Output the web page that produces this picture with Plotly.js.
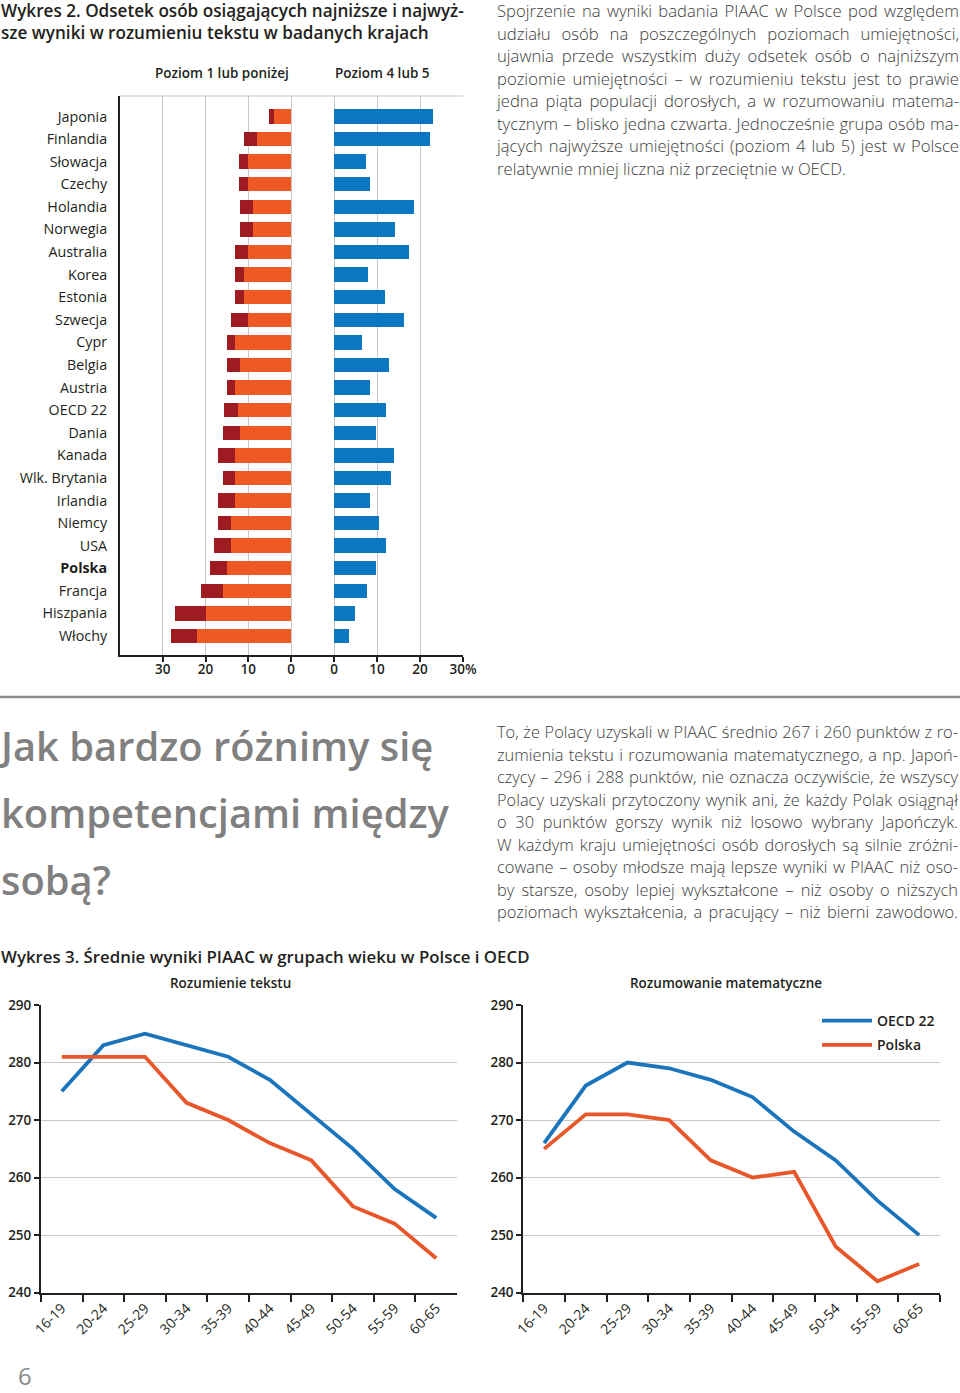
<!DOCTYPE html>
<html>
<head>
<meta charset="utf-8">
<script src="https://cdn.plot.ly/plotly-3.0.1.min.js"></script>
<style>
  html, body { margin:0; padding:0; background:#fff; }
  #page { position:relative; width:960px; height:1393px; overflow:hidden; }
  #chart { position:absolute; left:0; top:0; width:960px; height:1393px; }
  .txt { position:absolute; z-index:5; color:#231f20; font-family:"Open Sans", "Noto Sans", sans-serif; white-space:nowrap; }
  .ttl { font-weight:600; }
  .para { position:absolute; z-index:5; font-family:"Open Sans", "Noto Sans", sans-serif; font-weight:300; color:#3c3c3c; }
  .para div { white-space:nowrap; text-align:justify; text-align-last:justify; }
  .para div.last { text-align-last:left; }
  .head { position:absolute; z-index:5; font-family:"Open Sans", "Noto Sans", sans-serif; font-weight:600; color:#808080; white-space:nowrap; }
</style>
</head>
<body>
<div id="page">
  <div id="chart"></div>

  <div class="txt ttl" id="t2a" style="left:1px; top:0px; line-height:22px;">Wykres 2. Odsetek osób osiągających najniższe i najwyż-</div>
  <div class="txt ttl" id="t2b" style="left:1px; top:22px; line-height:22px;">sze wyniki w rozumieniu tekstu w badanych krajach</div>

  <div class="para" id="p1" style="left:497px; top:0px; width:462px;">
    <div>Spojrzenie na wyniki badania PIAAC w Polsce pod względem</div>
    <div>udziału osób na poszczególnych poziomach umiejętności,</div>
    <div>ujawnia przede wszystkim duży odsetek osób o najniższym</div>
    <div>poziomie umiejętności – w rozumieniu tekstu jest to prawie</div>
    <div>jedna piąta populacji dorosłych, a w rozumowaniu matema-</div>
    <div>tycznym – blisko jedna czwarta. Jednocześnie grupa osób ma-</div>
    <div>jących najwyższe umiejętności (poziom 4 lub 5) jest w Polsce</div>
    <div class="last">relatywnie mniej liczna niż przeciętnie w OECD.</div>
  </div>

  <div class="head" id="h1" style="left:1px; top:718px;">Jak bardzo różnimy się</div>
  <div class="head" id="h2" style="left:1px; top:785px;">kompetencjami między</div>
  <div class="head" id="h3" style="left:1px; top:852px;">sobą?</div>

  <div class="para" id="p2" style="left:497px; top:721px; width:461px;">
    <div>To, że Polacy uzyskali w PIAAC średnio 267 i 260 punktów z ro-</div>
    <div>zumienia tekstu i rozumowania matematycznego, a np. Japoń-</div>
    <div>czycy – 296 i 288 punktów, nie oznacza oczywiście, że wszyscy</div>
    <div>Polacy uzyskali przytoczony wynik ani, że każdy Polak osiągnął</div>
    <div>o 30 punktów gorszy wynik niż losowo wybrany Japończyk.</div>
    <div>W każdym kraju umiejętności osób dorosłych są silnie zróżni-</div>
    <div>cowane – osoby młodsze mają lepsze wyniki w PIAAC niż oso-</div>
    <div>by starsze, osoby lepiej wykształcone – niż osoby o niższych</div>
    <div>poziomach wykształcenia, a pracujący – niż bierni zawodowo.</div>
  </div>

  <div class="txt ttl" id="t3" style="left:1px; top:945px; line-height:24px;">Wykres 3. Średnie wyniki PIAAC w grupach wieku w Polsce i OECD</div>

  <div class="head" id="pg" style="left:18px; top:1363px; font-size:24px; line-height:26px; font-weight:400; color:#8a8a8a;">6</div>
</div>

<script>
// ---------- DATA ----------
const countries = ['Japonia','Finlandia','Słowacja','Czechy','Holandia','Norwegia','Australia','Korea','Estonia','Szwecja','Cypr','Belgia','Austria','OECD 22','Dania','Kanada','Wlk. Brytania','Irlandia','Niemcy','USA','Polska','Francja','Hiszpania','Włochy'];
const level1 =      [4.0, 8.0, 10.0, 10.0, 9.0, 9.0, 10.0, 11.0, 11.0, 10.0, 13.0, 12.0, 13.0, 12.3, 12.0, 13.0, 13.0, 13.0, 14.0, 14.0, 15.0, 16.0, 20.0, 22.1];
const belowLevel1 = [1.1, 3.0, 2.1, 2.1, 3.0, 3.0, 3.0, 2.0, 2.0, 4.0, 2.0, 3.0, 2.0, 3.4, 4.0, 4.0, 3.0, 4.0, 3.0, 4.0, 4.0, 5.0, 7.1, 6.0];
const level45 =     [23.0, 22.4, 7.4, 8.4, 18.7, 14.1, 17.4, 8.0, 11.9, 16.2, 6.4, 12.7, 8.4, 12.1, 9.8, 14.0, 13.3, 8.3, 10.5, 12.2, 9.8, 7.6, 4.8, 3.4];
const leftTicks = [30, 20, 10, 0];
const leftTickText = ['30', '20', '10', '0'];
const rightTicks = [0, 10, 20, 30];
const rightTickText = ['0', '10', '20', '30%'];

const ageGroups = ['16-19','20-24','25-29','30-34','35-39','40-44','45-49','50-54','55-59','60-65'];
const readingOECD =   [275, 283, 285, 283, 281, 277, 271, 265, 258, 253];
const readingPolska = [281, 281, 281, 273, 270, 266, 263, 255, 252, 246];
const mathOECD =      [266, 276, 280, 279, 277, 274, 268, 263, 256, 250];
const mathPolska =    [265, 271, 271, 270, 263, 260, 261, 248, 242, 245];

// ---------- LAYOUT HELPERS ----------
const W = 960, H = 1393;
const px = x => x / W;
const py = y => 1 - y / H;
const FONT = '"Open Sans", "Noto Sans", sans-serif';
const INK = '#231f20';
const GRID = '#c8c8c8';
const ORANGE = '#ef5a24', DARKRED = '#9e1c21', BLUE = '#0b76c1';
const LBLUE = '#1b75bc', LORANGE = '#e8572a';

const countryLabels = countries.map(c => c === 'Polska' ? '<b>' + c + '</b>' : c);

const traces = [
  {type:'bar', orientation:'h', y: countries, x: level1, xaxis:'x', yaxis:'y',
   marker:{color: ORANGE}, showlegend:false, name:'Poziom 1', hoverinfo:'x+y'},
  {type:'bar', orientation:'h', y: countries, x: belowLevel1, xaxis:'x', yaxis:'y',
   marker:{color: DARKRED}, showlegend:false, name:'Poniżej poziomu 1', hoverinfo:'x+y'},
  {type:'bar', orientation:'h', y: countries, x: level45, xaxis:'x2', yaxis:'y',
   marker:{color: BLUE}, showlegend:false, name:'Poziom 4 lub 5', hoverinfo:'x+y'},
  {type:'scatter', mode:'lines', x: ageGroups, y: readingOECD, xaxis:'x3', yaxis:'y3',
   line:{color: LBLUE, width:3.8}, showlegend:false, name:'OECD 22'},
  {type:'scatter', mode:'lines', x: ageGroups, y: readingPolska, xaxis:'x3', yaxis:'y3',
   line:{color: LORANGE, width:3.8}, showlegend:false, name:'Polska'},
  {type:'scatter', mode:'lines', x: ageGroups, y: mathOECD, xaxis:'x4', yaxis:'y4',
   line:{color: LBLUE, width:3.8}, name:'OECD 22', legendgroup:'a'},
  {type:'scatter', mode:'lines', x: ageGroups, y: mathPolska, xaxis:'x4', yaxis:'y4',
   line:{color: LORANGE, width:3.8}, name:'Polska', legendgroup:'b'}
];

const tickFont = {family: FONT, size: 13.5, color: INK, weight: 600};

const barX = {
  showgrid:true, gridcolor:GRID, gridwidth:1,
  zeroline:true, zerolinecolor:GRID, zerolinewidth:1,
  showline:true, linecolor:INK, linewidth:2,
  ticks:'outside', ticklen:5, tickwidth:2, tickcolor:INK,
  ticklabelstandoff:-4,
  tickfont: tickFont, fixedrange:true
};
const lineY = {
  range:[240, 290], dtick:10, tick0:240,
  showgrid:true, gridcolor:GRID, gridwidth:1, zeroline:false,
  showline:true, linecolor:INK, linewidth:2,
  ticks:'outside', ticklen:5, tickwidth:2, tickcolor:INK,
  tickfont: tickFont, fixedrange:true
};
const lineX = {
  type:'category', range:[-0.5, 9.5], tickson:'boundaries',
  showgrid:false, zeroline:false,
  showline:true, linecolor:INK, linewidth:2,
  ticks:'outside', ticklen:7, tickwidth:2, tickcolor:INK,
  tickangle:-45, tickfont:{family: FONT, size: 14, color: INK}, fixedrange:true
};

const layout = {
  width: W, height: H,
  margin: {l:0, r:0, t:0, b:0, pad:0},
  paper_bgcolor:'#ffffff', plot_bgcolor:'rgba(0,0,0,0)',
  font: {family: FONT, color: INK, size: 14},
  barmode:'stack', bargap:0.363,
  showlegend:true,
  legend: {x: px(817), y: py(1005), xanchor:'left', yanchor:'top',
           bgcolor:'rgba(0,0,0,0)', font:{family: FONT, size:14, color: INK, weight:600},
           itemwidth:50, tracegroupgap:3},
  xaxis: Object.assign({}, barX, {domain:[px(120), px(291)], range:[40, 0], anchor:'y',
          tickvals:leftTicks, ticktext:leftTickText}),
  xaxis2: Object.assign({}, barX, {domain:[px(334), px(463)], range:[0, 30], anchor:'y',
          tickvals:rightTicks, ticktext:rightTickText}),
  yaxis: {domain:[py(655), py(96)], anchor:'x', type:'category',
          categoryorder:'array', categoryarray: countries,
          range:[23.84, -0.907], tickvals: countries, ticktext: countryLabels,
          showgrid:false, zeroline:false, showline:true, linecolor:INK, linewidth:2,
          ticks:'', ticklabelstandoff:8,
          tickfont:{family: FONT, size:14.3, color: INK}, fixedrange:true},
  xaxis3: Object.assign({}, lineX, {domain:[px(41), px(457)], anchor:'y3'}),
  yaxis3: Object.assign({}, lineY, {domain:[py(1292.7), py(1005)], anchor:'x3'}),
  xaxis4: Object.assign({}, lineX, {domain:[px(523.3), px(940)], anchor:'y4'}),
  yaxis4: Object.assign({}, lineY, {domain:[py(1292.7), py(1005)], anchor:'x4'}),
  shapes: [
    {type:'line', xref:'paper', yref:'paper', x0:px(120), x1:px(463), y0:py(96), y1:py(96),
     line:{color:GRID, width:1}},
    {type:'line', xref:'paper', yref:'paper', x0:px(290), x1:px(335), y0:py(656), y1:py(656),
     line:{color:INK, width:2}},
    {type:'line', xref:'paper', yref:'paper', x0:0, x1:1, y0:py(697), y1:py(697),
     line:{color:'#8c8c8c', width:2.5}}
  ],
  annotations: [
    {text:'Poziom 1 lub poniżej', xref:'paper', yref:'paper', x:px(222), y:py(73),
     xanchor:'center', yanchor:'middle', showarrow:false,
     font:{family: FONT, size:13.5, color: INK, weight:600}},
    {text:'Poziom 4 lub 5', xref:'paper', yref:'paper', x:px(382), y:py(73),
     xanchor:'center', yanchor:'middle', showarrow:false,
     font:{family: FONT, size:13.5, color: INK, weight:600}},
    {text:'Rozumienie tekstu', xref:'paper', yref:'paper', x:px(230), y:py(983),
     xanchor:'center', yanchor:'middle', showarrow:false,
     font:{family: FONT, size:13.5, color: INK, weight:600}},
    {text:'Rozumowanie matematyczne', xref:'paper', yref:'paper', x:px(726), y:py(983),
     xanchor:'center', yanchor:'middle', showarrow:false,
     font:{family: FONT, size:13.5, color: INK, weight:600}}
  ]
};

Plotly.newPlot('chart', traces, layout, {staticPlot:true, displayModeBar:false});

// ---------- FIT TEXT WIDTHS ----------
function fitSingle(ids, target, base) {
  const els = ids.map(id => document.getElementById(id));
  els.forEach(e => { e.style.fontSize = base + 'px'; });
  const w = els[0].getBoundingClientRect().width;
  const fs = base * target / w;
  els.forEach(e => { e.style.fontSize = fs + 'px'; });
}
function fitPara(id, target, base, lh) {
  const p = document.getElementById(id);
  const lines = Array.from(p.children);
  p.style.fontSize = base + 'px';
  let maxW = 0;
  lines.forEach(d => {
    const s = document.createElement('span');
    s.textContent = d.textContent;
    s.style.whiteSpace = 'nowrap';
    s.style.visibility = 'hidden';
    s.style.position = 'absolute';
    p.appendChild(s);
    maxW = Math.max(maxW, s.getBoundingClientRect().width);
    p.removeChild(s);
  });
  p.style.fontSize = (base * target / maxW) + 'px';
  lines.forEach(d => { d.style.height = lh + 'px'; d.style.lineHeight = lh + 'px'; });
}
function fitAll() {
  fitSingle(['t2a', 't2b'], 463, 18);
  fitSingle(['t3'], 529, 18);
  fitSingle(['h2', 'h1', 'h3'], 448, 44);
  fitPara('p1', 458, 17, 22.55);
  fitPara('p2', 457, 17, 22.55);
}
fitAll();
if (document.fonts && document.fonts.ready) document.fonts.ready.then(fitAll);
</script>
</body>
</html>
